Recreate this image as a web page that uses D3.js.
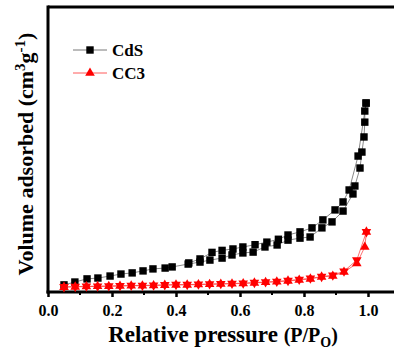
<!DOCTYPE html>
<html>
<head>
<meta charset="utf-8">
<script src="https://cdn.jsdelivr.net/npm/d3@7"></script>
<style>
  body { margin: 0; background: #fff; }
  svg { display: block; font-family: "Liberation Serif", "Times New Roman", serif; font-weight: bold; }
</style>
</head>
<body>
<svg id="chart" width="394" height="356"></svg>
<script>
// CdS isotherm (adsorption branch, then desorption branch)
const cdsAdsP = [0.05, 0.084, 0.122, 0.156, 0.194, 0.228, 0.263, 0.297, 0.328, 0.366, 0.388, 0.438, 0.475, 0.506, 0.544, 0.575, 0.609, 0.641, 0.678, 0.716, 0.75, 0.7875, 0.819, 0.856, 0.8875, 0.922, 0.953, 0.959, 0.975, 0.981, 0.9875, 0.99, 0.99, 0.994];
const cdsAdsV = [2.5, 3.5, 4.6, 4.9, 5.6, 6.3, 6.7, 7.4, 8.1, 8.4, 8.8, 9.8, 10.5, 11.2, 11.9, 13.0, 13.7, 14.0, 15.8, 16.5, 18.2, 18.9, 19.3, 22.5, 24.6, 28.4, 34.4, 37.2, 43.5, 49.1, 54.4, 59.6, 63.5, 66.3];
const cdsDesP = [0.994, 0.969, 0.941, 0.922, 0.897, 0.859, 0.825, 0.7875, 0.75, 0.72, 0.684, 0.647, 0.609, 0.578, 0.544, 0.5125, 0.475, 0.44];
const cdsDesV = [66.3, 47.7, 35.8, 31.6, 28.8, 25.3, 22.5, 21.1, 20.0, 18.5, 17.5, 16.6, 15.8, 15.1, 14.6, 13.9, 11.6, 10.2];

// CC3 isotherm
const cc3AdsP = [0.05, 0.085, 0.12, 0.155, 0.19, 0.225, 0.26, 0.295, 0.33, 0.365, 0.40, 0.435, 0.47, 0.505, 0.54, 0.575, 0.61, 0.645, 0.68, 0.715, 0.75, 0.785, 0.82, 0.855, 0.89, 0.925, 0.965, 0.99, 0.995];
const cc3AdsV = [1.7, 1.8, 1.9, 2.0, 2.0, 2.1, 2.2, 2.2, 2.3, 2.4, 2.5, 2.5, 2.6, 2.7, 2.8, 2.9, 3.0, 3.2, 3.4, 3.6, 3.9, 4.2, 4.6, 5.3, 5.6, 7.0, 10.0, 15.8, 21.1];
const cc3DesP = [0.995, 0.965, 0.925, 0.89, 0.855, 0.82, 0.785, 0.75, 0.715, 0.68, 0.645, 0.61, 0.575, 0.54, 0.505, 0.47, 0.435, 0.40, 0.365, 0.33, 0.295, 0.26, 0.225, 0.19, 0.155, 0.12, 0.085, 0.05];
const cc3DesV = [21.1, 11.2, 7.3, 5.9, 5.4, 4.8, 4.4, 4.0, 3.7, 3.5, 3.3, 3.1, 3.0, 2.9, 2.8, 2.7, 2.6, 2.6, 2.5, 2.4, 2.3, 2.3, 2.2, 2.1, 2.0, 2.0, 1.9, 1.8];

const xTicks = [0, 0.2, 0.4, 0.6, 0.8, 1.0];
const xMinorTicks = [0.1, 0.3, 0.5, 0.7, 0.9];
const legendNames = ["CdS", "CC3"];

const svg = d3.select("#chart");
const margin = {top: 7, right: 0, bottom: 64, left: 48};
const width = 394, height = 356;

const x = d3.scaleLinear().domain([0, 1.08]).range([margin.left, margin.left + 1.08 * 320]);
const y = d3.scaleLinear().domain([0, 100]).range([height - margin.bottom, margin.top]);

const zip = (P, V) => P.map((p, i) => [p, V[i]]);
const line = d3.line().x(d => x(d[0])).y(d => y(d[1]));

// frame
svg.append("line").attr("x1", margin.left).attr("x2", width).attr("y1", y(100)).attr("y2", y(100))
    .attr("stroke", "#000").attr("stroke-width", 3);

// x axis
const xAxis = svg.append("g").attr("transform", `translate(0,${y(0)})`)
    .call(d3.axisBottom(x).tickValues(xTicks).tickFormat(d3.format(".1f")).tickSize(5).tickPadding(8));
xAxis.select(".domain").remove();
xAxis.selectAll(".tick line").attr("stroke-width", 2.5);
xAxis.selectAll(".tick text").attr("font-size", "16px").attr("font-family", "Liberation Serif").attr("font-weight", "bold");
svg.append("g").selectAll("line").data(xMinorTicks).join("line")
    .attr("x1", d => x(d)).attr("x2", d => x(d)).attr("y1", y(0)).attr("y2", y(0) + 3)
    .attr("stroke", "#000").attr("stroke-width", 2);
svg.append("line").attr("x1", margin.left - 1.5).attr("x2", width).attr("y1", y(0)).attr("y2", y(0))
    .attr("stroke", "#000").attr("stroke-width", 3);
// y axis
svg.append("line").attr("x1", margin.left).attr("x2", margin.left).attr("y1", y(100) - 1.5).attr("y2", y(0) + 1.5)
    .attr("stroke", "#000").attr("stroke-width", 3);

const series = [
    {color: "#555", fill: "#000", data: [zip(cdsAdsP, cdsAdsV), zip(cdsDesP, cdsDesV)], shapes: ["sq", "sq"]},
    {color: "#ff3030", fill: "#ff0000", data: [zip(cc3AdsP, cc3AdsV), zip(cc3DesP, cc3DesV)], shapes: ["up", "down"]}
];
const tri = d3.symbol().type(d3.symbolTriangle).size(40)();

function drawMarker(g, shape, cx, cy, fill) {
    if (shape === "sq") {
        g.append("rect").attr("x", cx - 3.7).attr("y", cy - 3.7).attr("width", 7.4).attr("height", 7.4).attr("fill", fill);
    } else {
        g.append("path").attr("d", tri).attr("fill", fill)
            .attr("transform", `translate(${cx},${cy})${shape === "down" ? " rotate(180)" : ""}`);
    }
}

series.forEach(s => {
    s.data.forEach((pts, k) => {
        svg.append("path").datum(pts).attr("d", line).attr("fill", "none")
            .attr("stroke", s.color).attr("stroke-width", 0.7);
    });
    s.data.forEach((pts, k) => {
        const g = svg.append("g");
        pts.forEach(d => drawMarker(g, s.shapes[k], x(d[0]), y(d[1]), s.fill));
    });
});

// legend
legendNames.forEach((name, i) => {
    const ly = 50 + i * 23;
    const s = series[i];
    svg.append("line").attr("x1", 73).attr("x2", 107).attr("y1", ly).attr("y2", ly)
        .attr("stroke", s.color).attr("stroke-width", 0.8);
    drawMarker(svg, i === 0 ? "sq" : "up", 90, ly, s.fill);
    svg.append("text").attr("x", 112).attr("y", ly + 6).attr("font-size", "17px").text(name);
});

// axis titles
const xt = svg.append("text").attr("x", 223).attr("y", 342).attr("text-anchor", "middle").attr("font-size", "23px");
xt.append("tspan").text("Relative pressure ");
xt.append("tspan").attr("font-size", "20px").text("(P/P");
xt.append("tspan").attr("font-size", "14px").attr("dy", 5).text("O");
xt.append("tspan").attr("font-size", "20px").attr("dy", -5).text(")");

const yt = svg.append("text").attr("transform", "translate(33,154) rotate(-90)")
    .attr("text-anchor", "middle").attr("font-size", "22px");
yt.append("tspan").text("Volume adsorbed (cm");
yt.append("tspan").attr("font-size", "15px").attr("dy", -8).text("3");
yt.append("tspan").attr("dy", 8).text("g");
yt.append("tspan").attr("font-size", "15px").attr("dy", -8).text("-1");
yt.append("tspan").attr("dy", 8).text(")");
</script>
</body>
</html>
